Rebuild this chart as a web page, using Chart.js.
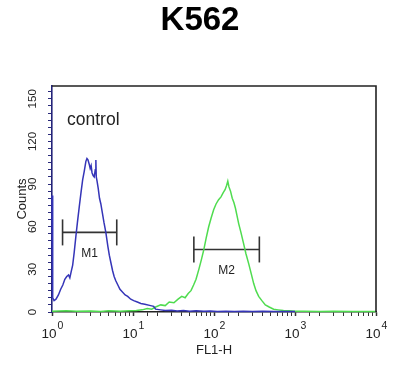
<!DOCTYPE html>
<html><head><meta charset="utf-8">
<script src="https://cdn.jsdelivr.net/npm/chart.js@4.4.1/dist/chart.umd.min.js"></script>
<style>html,body{margin:0;padding:0;background:#fff}#wrap{width:400px;height:380px}</style>
</head><body><div id="wrap"><canvas id="c" width="400" height="380"></canvas></div>
<script>
const chartTitle = 'K562';
const xAxisTitle = 'FL1-H';
const yAxisTitle = 'Counts';
const annotationText = 'control';
const xTickValues = [1, 10, 100, 1000, 10000];
const xTickBase = '10';
const xTickExponents = ['0', '1', '2', '3', '4'];
const yTickLabels = [0, 30, 60, 90, 120, 150];

const controlX = [1.00,1.02,1.06,1.12,1.20,1.28,1.36,1.44,1.52,1.60,1.66,1.72,1.80,1.88,1.97,2.06,2.17,2.28,2.39,2.50,2.62,2.70,2.78,2.88,2.96,3.04,3.12,3.22,3.32,3.42,3.48,3.52,3.60,3.72,3.86,4.01,4.18,4.38,4.62,4.90,5.10,5.32,5.60,5.85,6.13,6.50,6.90,7.41,8.00,8.60,9.38,10.2,11.3,12.5,14.0,16.5,18.0,19.0,21.9,25,30,35,42,50,60,75,90,110,140,180,230,300,400,550,750,1000];
const controlY = [82,10,8,9,12,16,19,23,25,26,24,28,33,42,53,63,74,84,93,99,106,108,107,104,101,103,98,96,95,100,107,95,92,87,80,76,70,63,56,46,40,35,29,25,22,19,16,14,12,11,9,8,7,6,5.5,4.5,4,2,1.5,1,1.3,0.7,1,0.6,0.8,0.5,0.7,0.4,0.6,0.4,0.5,0.3,0.6,0.4,0.3,0.3];

const sampleX = [1,1.5,2,3,4,5,7,9,11,13,15,17,19,22,25,28,32,36,40,44,48,52,56,60,65,70,75,80,86,92,99,106,114,122,130,137,143,148,153,160,168,176,184,192,202,215,230,248,268,288,309,330,356,390,430,480,545,620,720,850,1000,1300,2000,3000,5000,7000,10000];
const sampleY = [0.5,0.8,0.5,0.7,0.4,0.8,0.5,0.9,1,1.5,2.5,2,3.5,5,4.5,7,6.5,9,11,10,13,15,19,23,30,37,44,52,60,66,72,76,79,81,84,86,89,92,88,85,80,77,73,68,62,56,49,41,34,27,20,15,11,8,5,3.5,2,1.5,1,0.8,0.6,0.5,0.4,0.5,0.3,0.4,0.3];

const markerNames = ['M1', 'M2'];
const markerStart = [1.35, 56.4];
const markerEnd = [6.3, 363];
const markerLevel = [56, 44];

const FONT = '"Liberation Sans", Arial, Helvetica, sans-serif';

const toPoints = (xs, ys) => xs.map((v, i) => ({x: v, y: ys[i]}));

const markerSets = markerNames.map((n, i) => ({
  label: n,
  data: [{x: markerStart[i], y: markerLevel[i]}, {x: markerEnd[i], y: markerLevel[i]}],
  borderColor: '#333',
  borderWidth: 1.6,
  pointStyle: 'line',
  pointRotation: 90,
  pointRadius: 13,
  pointBorderWidth: 1.6,
  pointBorderColor: '#333',
  showLine: true,
  clip: false
}));

const overlay = {
  id: 'overlay',
  afterDatasetsDraw(chart) {
    const {ctx, chartArea: a, scales: {x, y}} = chart;
    ctx.save();
    ctx.strokeStyle = '#222';
    ctx.lineWidth = 1.6;
    ctx.beginPath();
    ctx.moveTo(a.left, a.top);
    ctx.lineTo(a.right, a.top);
    ctx.lineTo(a.right, a.bottom);
    ctx.stroke();
    ctx.fillStyle = '#222';
    ctx.font = '17.5px ' + FONT;
    ctx.textAlign = 'left';
    ctx.textBaseline = 'alphabetic';
    ctx.fillText(annotationText, a.left + 15, a.top + 39);
    ctx.font = '12px ' + FONT;
    ctx.textAlign = 'center';
    ctx.textBaseline = 'middle';
    markerNames.forEach((n, i) => {
      const px = x.getPixelForValue(Math.sqrt(markerStart[i] * markerEnd[i]));
      const py = y.getPixelForValue(markerLevel[i]) + 21;
      ctx.fillText(n, px, py);
    });
    // x tick labels: base with raised exponent
    ctx.textBaseline = 'alphabetic';
    xTickValues.forEach((v, i) => {
      const px = x.getPixelForValue(v);
      ctx.font = '13.5px ' + FONT;
      ctx.textAlign = 'right';
      ctx.fillText(xTickBase, px + 4.5, a.bottom + 26);
      ctx.font = '10.5px ' + FONT;
      ctx.textAlign = 'left';
      ctx.fillText(xTickExponents[i], px + 5.5, a.bottom + 17);
    });
    ctx.restore();
  }
};

new Chart(document.getElementById('c'), {
  type: 'line',
  data: {
    datasets: [
      {label: 'control', data: toPoints(controlX, controlY), borderColor: '#3535b8', borderWidth: 1.5, pointRadius: 0, tension: 0, clip: 3},
      {label: 'sample', data: toPoints(sampleX, sampleY), borderColor: '#4fdc4f', borderWidth: 1.5, pointRadius: 0, tension: 0, clip: 3},
      ...markerSets
    ]
  },
  options: {
    responsive: false,
    devicePixelRatio: 1,
    animation: false,
    events: [],
    layout: {padding: 0},
    plugins: {
      legend: {display: false},
      tooltip: {enabled: false},
      title: {
        display: true, text: chartTitle, color: '#000',
        font: {family: FONT, size: 33, weight: 'bold', lineHeight: 1.2},
        padding: {top: 1.2, bottom: 45.2}
      }
    },
    scales: {
      x: {
        type: 'logarithmic', min: 1, max: 10000,
        afterFit: s => { s.height = 68; },
        border: {display: true, color: '#222', width: 1.4},
        grid: {drawOnChartArea: false, tickLength: 4, color: '#333',
               tickWidth: c => (xTickValues.includes(c.tick && c.tick.value) ? 1.5 : 1)},
        ticks: {display: false, autoSkip: false, maxRotation: 0, minRotation: 0},
        title: {display: true, text: xAxisTitle, color: '#222', font: {family: FONT, size: 13},
                padding: {top: 0, bottom: 22}}
      },
      y: {
        type: 'linear', min: 0, max: 159,
        afterFit: s => { s.width = 52; },
        border: {display: true, color: '#24247a', width: 1.6},
        grid: {drawOnChartArea: false, tickLength: 4, color: '#2a2a7a'},
        ticks: {
          stepSize: 5, includeBounds: false, autoSkip: false,
          minRotation: 90, maxRotation: 90, crossAlign: 'center', padding: 6,
          color: '#222', font: {family: FONT, size: 11.5},
          callback: v => (yTickLabels.includes(v) ? String(v) : '')
        },
        title: {display: true, text: yAxisTitle, color: '#222', font: {family: FONT, size: 13},
                padding: {top: 15, bottom: 0}}
      },
      yRight: {
        type: 'linear', position: 'right', display: true,
        afterFit: s => { s.width = 24; },
        border: {display: false},
        grid: {display: false, drawTicks: false},
        ticks: {display: false}
      }
    }
  },
  plugins: [overlay]
});
</script>
</body></html>
